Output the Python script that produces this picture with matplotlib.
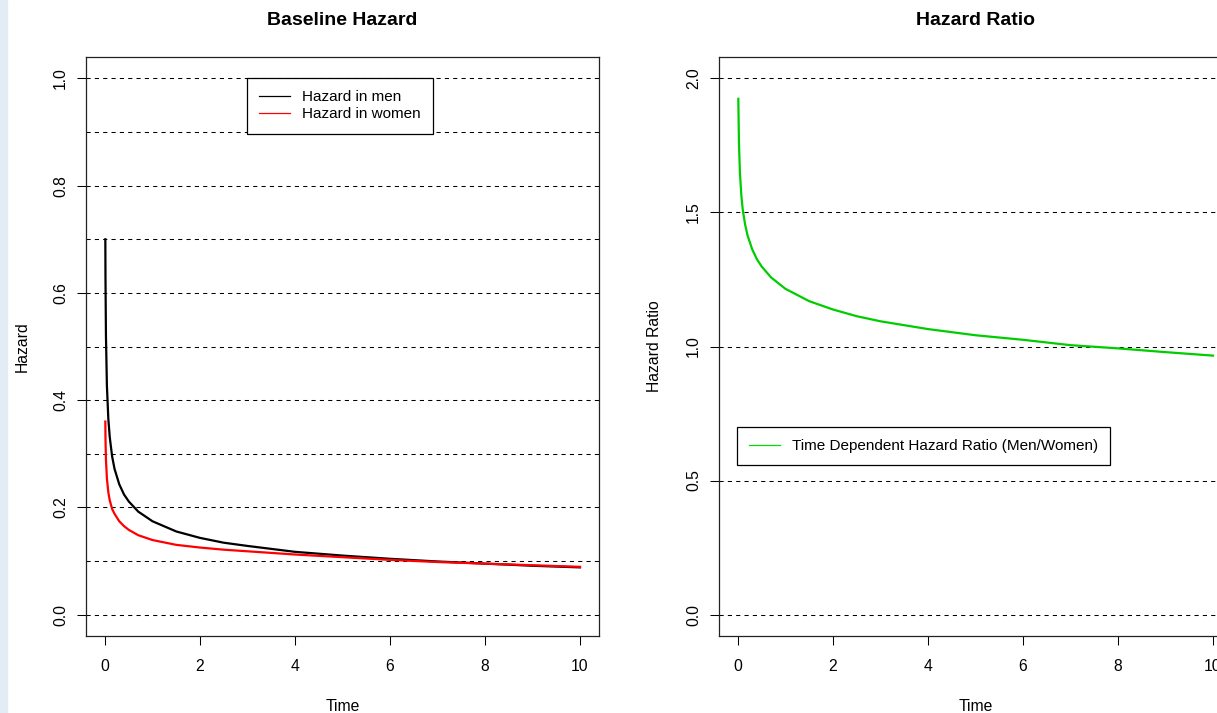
import matplotlib.pyplot as plt
from matplotlib.lines import Line2D
from matplotlib.patches import Rectangle

plt.rcParams['font.family'] = ['Liberation Sans', 'DejaVu Sans']

# Values
time = [0.007, 0.01, 0.02, 0.04, 0.07, 0.1, 0.15, 0.2, 0.3, 0.4, 0.5, 0.7,
        1.0, 1.5, 2, 2.5, 3, 4, 5, 6, 7, 8, 9, 10]
hazard_men = [0.70, 0.63, 0.52, 0.427, 0.365, 0.331, 0.295, 0.272, 0.243, 0.224, 0.211, 0.192,
              0.174, 0.155, 0.143, 0.134, 0.128, 0.117, 0.110, 0.104, 0.099, 0.095, 0.091, 0.088]
hazard_women = [0.36, 0.33, 0.289, 0.254, 0.228, 0.213, 0.197, 0.188, 0.174, 0.165, 0.158, 0.148,
                0.139, 0.130, 0.125, 0.121, 0.118, 0.112, 0.107, 0.102, 0.098, 0.095, 0.092, 0.089]
hazard_ratio = [1.924, 1.88, 1.76, 1.65, 1.564, 1.51, 1.455, 1.415, 1.362, 1.325, 1.298, 1.257,
                1.215, 1.169, 1.138, 1.113, 1.094, 1.065, 1.042, 1.025, 1.005, 0.993, 0.979, 0.966]

x_ticks = [0, 2, 4, 6, 8, 10]
left_grid = [0.0, 0.1, 0.2, 0.3, 0.4, 0.5, 0.6, 0.7, 0.8, 0.9, 1.0]
left_ticks = [0.0, 0.2, 0.4, 0.6, 0.8, 1.0]
right_grid = [0.0, 0.5, 1.0, 1.5, 2.0]

W, H = 1217, 713
fig = plt.figure(figsize=(W / 100, H / 100), dpi=100)

# faint watermark strip on the left edge
fig.patches.append(Rectangle((0, 0), 7 / W, 1, transform=fig.transFigure,
                             color='#e3ecf4', zorder=-1))


def style_axes(ax, ylim, grid, yticks, ylabel, title):
    ax.set_xlim(-0.4, 10.4)
    ax.set_ylim(ylim)
    for g in grid:
        ax.axhline(g, color='black', lw=0.75, ls=(0, (4, 4)), zorder=1)
    ax.set_xticks(x_ticks)
    ax.set_yticks(yticks)
    ax.set_yticklabels([f'{v:.1f}' for v in yticks], rotation=90, va='center')
    ax.tick_params(direction='out', length=6.5, width=0.75, labelsize=11.3,
                   colors='black')
    ax.tick_params(axis='x', pad=10)
    ax.tick_params(axis='y', pad=6.5)
    for s in ax.spines.values():
        s.set_linewidth(0.9)
        s.set_color('#222222')
    ax.set_xlabel('Time', fontsize=11.3, labelpad=18)
    ax.set_ylabel(ylabel, fontsize=11.3, labelpad=17)
    ax.set_title(title, fontsize=14, fontweight='bold', pad=23)


legend_style = dict(fontsize=11.0, frameon=True, fancybox=False, edgecolor='black',
                    framealpha=1, handlelength=2.0, handletextpad=0.8,
                    borderpad=0.8, labelspacing=0.2, borderaxespad=0, loc='upper left')

# Baseline hazard
ax1 = fig.add_axes([86 / W, 77 / H, 513 / W, 579 / H])
style_axes(ax1, (-0.04, 1.04), left_grid, left_ticks, 'Hazard', 'Baseline Hazard')
ax1.plot(time, hazard_men, color='black', lw=1.6, zorder=3)
ax1.plot(time, hazard_women, color='red', lw=1.6, zorder=3)
handles = [Line2D([], [], color='black', lw=0.9), Line2D([], [], color='red', lw=0.9)]
leg = ax1.legend(handles, ['Hazard in men', 'Hazard in women'],
                 bbox_to_anchor=((247 - 86) / 513, (636 - 78) / 579), **legend_style)
leg.get_frame().set_linewidth(0.9)

# Hazard ratio
ax2 = fig.add_axes([719 / W, 77 / H, 513 / W, 579 / H])
style_axes(ax2, (-0.08, 2.08), right_grid, right_grid, 'Hazard Ratio', 'Hazard Ratio')
ax2.plot(time, hazard_ratio, color='#00cd00', lw=1.6, zorder=3)
leg2 = ax2.legend([Line2D([], [], color='#00dd00', lw=0.9)],
                  ['Time Dependent Hazard Ratio (Men/Women)'],
                  bbox_to_anchor=((737 - 719) / 513, (636 - 427) / 579), **legend_style)
leg2.get_frame().set_linewidth(0.9)

fig.savefig('out.png', dpi=100)
